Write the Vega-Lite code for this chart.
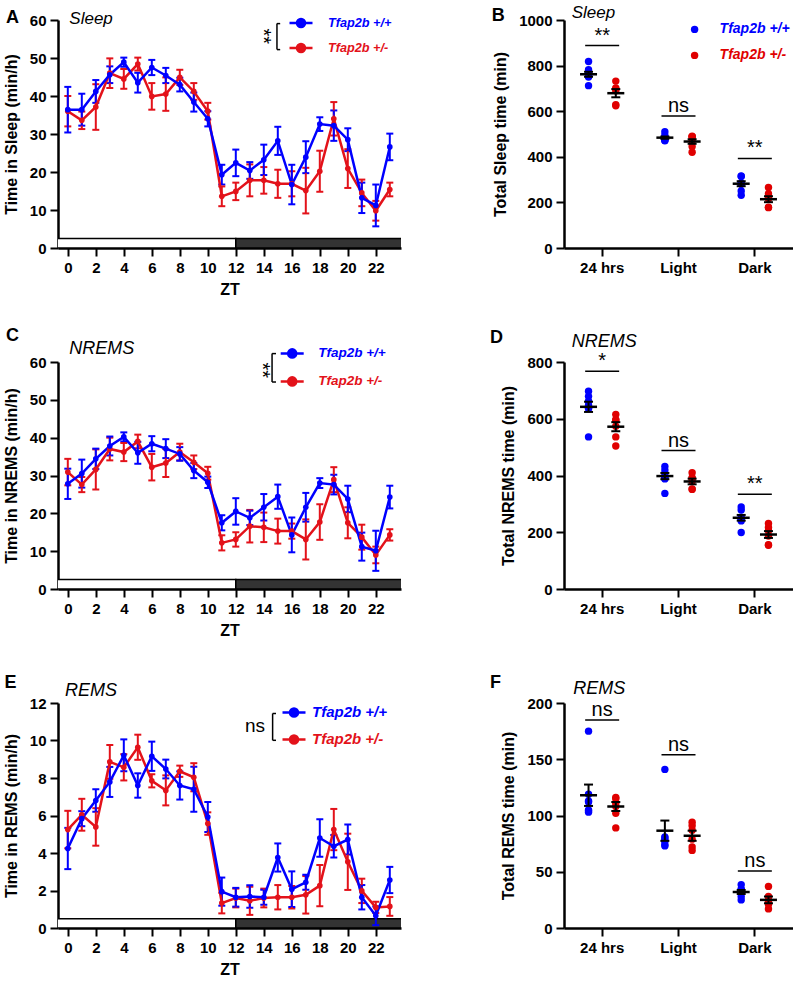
{
  "$schema": "https://vega.github.io/schema/vega-lite/v6.json",
  "background": "white",
  "padding": {"left": 3, "top": 4, "right": 0, "bottom": 0},
  "autosize": {"type": "pad"},
  "bounds": "flush",
  "columns": 2,
  "spacing": {"row": 114, "column": 163},
  "resolve": {"scale": {"color": "independent", "fill": "independent"}, "legend": {"color": "independent", "fill": "independent"}},
  "datasets": {
    "phase": [{"phase": "Light", "start": -1, "end": 12}, {"phase": "Dark", "start": 12, "end": 24}],
    "sleep": [
      {"zt":0,"genotype":"Tfap2b +/-","mean":36,"sem":4},{"zt":1,"genotype":"Tfap2b +/-","mean":33.6,"sem":2.3},{"zt":2,"genotype":"Tfap2b +/-","mean":37.1,"sem":6},{"zt":3,"genotype":"Tfap2b +/-","mean":46,"sem":3.9},{"zt":4,"genotype":"Tfap2b +/-","mean":44.5,"sem":2.6},{"zt":5,"genotype":"Tfap2b +/-","mean":48.4,"sem":1.7},{"zt":6,"genotype":"Tfap2b +/-","mean":39.9,"sem":3.5},{"zt":7,"genotype":"Tfap2b +/-","mean":40.5,"sem":4.4},{"zt":8,"genotype":"Tfap2b +/-","mean":44.9,"sem":2},{"zt":9,"genotype":"Tfap2b +/-","mean":41.2,"sem":2.2},{"zt":10,"genotype":"Tfap2b +/-","mean":36,"sem":2.2},{"zt":11,"genotype":"Tfap2b +/-","mean":13.6,"sem":2.6},{"zt":12,"genotype":"Tfap2b +/-","mean":14.9,"sem":2.3},{"zt":13,"genotype":"Tfap2b +/-","mean":17.8,"sem":4.2},{"zt":14,"genotype":"Tfap2b +/-","mean":17.8,"sem":3.5},{"zt":15,"genotype":"Tfap2b +/-","mean":16.9,"sem":3.7},{"zt":16,"genotype":"Tfap2b +/-","mean":16.9,"sem":3.3},{"zt":17,"genotype":"Tfap2b +/-","mean":15.1,"sem":6},{"zt":18,"genotype":"Tfap2b +/-","mean":20.2,"sem":5.4},{"zt":19,"genotype":"Tfap2b +/-","mean":34,"sem":4.4},{"zt":20,"genotype":"Tfap2b +/-","mean":20.9,"sem":5.1},{"zt":21,"genotype":"Tfap2b +/-","mean":14.5,"sem":3.5},{"zt":22,"genotype":"Tfap2b +/-","mean":9.8,"sem":2.6},{"zt":23,"genotype":"Tfap2b +/-","mean":15.4,"sem":1.8},
      {"zt":0,"genotype":"Tfap2b +/+","mean":36.4,"sem":6},{"zt":1,"genotype":"Tfap2b +/+","mean":36.4,"sem":4.2},{"zt":2,"genotype":"Tfap2b +/+","mean":41.2,"sem":3},{"zt":3,"genotype":"Tfap2b +/+","mean":45.6,"sem":2.2},{"zt":4,"genotype":"Tfap2b +/+","mean":48.9,"sem":1.2},{"zt":5,"genotype":"Tfap2b +/+","mean":43.5,"sem":2.6},{"zt":6,"genotype":"Tfap2b +/+","mean":47.5,"sem":2},{"zt":7,"genotype":"Tfap2b +/+","mean":45.4,"sem":2},{"zt":8,"genotype":"Tfap2b +/+","mean":43,"sem":1.8},{"zt":9,"genotype":"Tfap2b +/+","mean":38.4,"sem":2.5},{"zt":10,"genotype":"Tfap2b +/+","mean":34,"sem":2},{"zt":11,"genotype":"Tfap2b +/+","mean":19.3,"sem":2.6},{"zt":12,"genotype":"Tfap2b +/+","mean":22.4,"sem":3.5},{"zt":13,"genotype":"Tfap2b +/+","mean":20.4,"sem":2.2},{"zt":14,"genotype":"Tfap2b +/+","mean":23.2,"sem":4},{"zt":15,"genotype":"Tfap2b +/+","mean":28.2,"sem":3.7},{"zt":16,"genotype":"Tfap2b +/+","mean":16.7,"sem":5.2},{"zt":17,"genotype":"Tfap2b +/+","mean":23.9,"sem":4.2},{"zt":18,"genotype":"Tfap2b +/+","mean":32.6,"sem":1.8},{"zt":19,"genotype":"Tfap2b +/+","mean":32.2,"sem":4},{"zt":20,"genotype":"Tfap2b +/+","mean":28.5,"sem":3},{"zt":21,"genotype":"Tfap2b +/+","mean":13.2,"sem":4},{"zt":22,"genotype":"Tfap2b +/+","mean":11.2,"sem":5.5},{"zt":23,"genotype":"Tfap2b +/+","mean":26.6,"sem":3.5}
    ],
    "nrems": [
      {"zt":0,"genotype":"Tfap2b +/-","mean":30.9,"sem":3.5},{"zt":1,"genotype":"Tfap2b +/-","mean":27.6,"sem":2},{"zt":2,"genotype":"Tfap2b +/-","mean":31.6,"sem":5.3},{"zt":3,"genotype":"Tfap2b +/-","mean":37,"sem":3},{"zt":4,"genotype":"Tfap2b +/-","mean":36.2,"sem":2.4},{"zt":5,"genotype":"Tfap2b +/-","mean":39,"sem":1.8},{"zt":6,"genotype":"Tfap2b +/-","mean":32.2,"sem":3.5},{"zt":7,"genotype":"Tfap2b +/-","mean":33.3,"sem":3.7},{"zt":8,"genotype":"Tfap2b +/-","mean":36.2,"sem":2.2},{"zt":9,"genotype":"Tfap2b +/-","mean":33.5,"sem":1.8},{"zt":10,"genotype":"Tfap2b +/-","mean":30.6,"sem":1.7},{"zt":11,"genotype":"Tfap2b +/-","mean":12.2,"sem":2},{"zt":12,"genotype":"Tfap2b +/-","mean":13.1,"sem":1.9},{"zt":13,"genotype":"Tfap2b +/-","mean":16.6,"sem":4.3},{"zt":14,"genotype":"Tfap2b +/-","mean":16.3,"sem":3.9},{"zt":15,"genotype":"Tfap2b +/-","mean":15.3,"sem":3.3},{"zt":16,"genotype":"Tfap2b +/-","mean":15.3,"sem":2},{"zt":17,"genotype":"Tfap2b +/-","mean":13.1,"sem":5.3},{"zt":18,"genotype":"Tfap2b +/-","mean":17.7,"sem":4.7},{"zt":19,"genotype":"Tfap2b +/-","mean":28.9,"sem":3.3},{"zt":20,"genotype":"Tfap2b +/-","mean":17.5,"sem":4.1},{"zt":21,"genotype":"Tfap2b +/-","mean":13.7,"sem":3.3},{"zt":22,"genotype":"Tfap2b +/-","mean":9,"sem":2.2},{"zt":23,"genotype":"Tfap2b +/-","mean":14.3,"sem":1.5},
      {"zt":0,"genotype":"Tfap2b +/+","mean":27.8,"sem":4},{"zt":1,"genotype":"Tfap2b +/+","mean":30.5,"sem":3.7},{"zt":2,"genotype":"Tfap2b +/+","mean":34.4,"sem":2.7},{"zt":3,"genotype":"Tfap2b +/+","mean":37.8,"sem":2.5},{"zt":4,"genotype":"Tfap2b +/+","mean":40.2,"sem":1.2},{"zt":5,"genotype":"Tfap2b +/+","mean":36,"sem":2.9},{"zt":6,"genotype":"Tfap2b +/+","mean":38.4,"sem":2},{"zt":7,"genotype":"Tfap2b +/+","mean":37.1,"sem":2.5},{"zt":8,"genotype":"Tfap2b +/+","mean":35.7,"sem":1.8},{"zt":9,"genotype":"Tfap2b +/+","mean":31.3,"sem":2},{"zt":10,"genotype":"Tfap2b +/+","mean":28.2,"sem":1.5},{"zt":11,"genotype":"Tfap2b +/+","mean":17.5,"sem":2},{"zt":12,"genotype":"Tfap2b +/+","mean":20.5,"sem":3.5},{"zt":13,"genotype":"Tfap2b +/+","mean":18.8,"sem":1.9},{"zt":14,"genotype":"Tfap2b +/+","mean":21.6,"sem":3.5},{"zt":15,"genotype":"Tfap2b +/+","mean":24.4,"sem":3.2},{"zt":16,"genotype":"Tfap2b +/+","mean":14.3,"sem":4.6},{"zt":17,"genotype":"Tfap2b +/+","mean":21.6,"sem":3.8},{"zt":18,"genotype":"Tfap2b +/+","mean":28,"sem":1.3},{"zt":19,"genotype":"Tfap2b +/+","mean":27.6,"sem":2.6},{"zt":20,"genotype":"Tfap2b +/+","mean":23.8,"sem":3.5},{"zt":21,"genotype":"Tfap2b +/+","mean":11.2,"sem":3.7},{"zt":22,"genotype":"Tfap2b +/+","mean":10.1,"sem":5.3},{"zt":23,"genotype":"Tfap2b +/+","mean":24.3,"sem":3}
    ],
    "rems": [
      {"zt":0,"genotype":"Tfap2b +/-","mean":5.25,"sem":1},{"zt":1,"genotype":"Tfap2b +/-","mean":6.04,"sem":0.85},{"zt":2,"genotype":"Tfap2b +/-","mean":5.39,"sem":1},{"zt":3,"genotype":"Tfap2b +/-","mean":8.86,"sem":0.9},{"zt":4,"genotype":"Tfap2b +/-","mean":8.57,"sem":0.7},{"zt":5,"genotype":"Tfap2b +/-","mean":9.64,"sem":0.67},{"zt":6,"genotype":"Tfap2b +/-","mean":7.85,"sem":0.35},{"zt":7,"genotype":"Tfap2b +/-","mean":7.34,"sem":0.8},{"zt":8,"genotype":"Tfap2b +/-","mean":8.36,"sem":0.3},{"zt":9,"genotype":"Tfap2b +/-","mean":8.04,"sem":0.75},{"zt":10,"genotype":"Tfap2b +/-","mean":5.57,"sem":0.6},{"zt":11,"genotype":"Tfap2b +/-","mean":1.33,"sem":0.55},{"zt":12,"genotype":"Tfap2b +/-","mean":1.6,"sem":0.5},{"zt":13,"genotype":"Tfap2b +/-","mean":1.45,"sem":0.75},{"zt":14,"genotype":"Tfap2b +/-","mean":1.6,"sem":0.5},{"zt":15,"genotype":"Tfap2b +/-","mean":1.64,"sem":0.65},{"zt":16,"genotype":"Tfap2b +/-","mean":1.64,"sem":0.6},{"zt":17,"genotype":"Tfap2b +/-","mean":1.77,"sem":1},{"zt":18,"genotype":"Tfap2b +/-","mean":2.26,"sem":1.1},{"zt":19,"genotype":"Tfap2b +/-","mean":5.25,"sem":1.1},{"zt":20,"genotype":"Tfap2b +/-","mean":3.53,"sem":1.5},{"zt":21,"genotype":"Tfap2b +/-","mean":1.98,"sem":0.65},{"zt":22,"genotype":"Tfap2b +/-","mean":1.1,"sem":0.3},{"zt":23,"genotype":"Tfap2b +/-","mean":1.15,"sem":0.5},
      {"zt":0,"genotype":"Tfap2b +/+","mean":4.24,"sem":1.1},{"zt":1,"genotype":"Tfap2b +/+","mean":5.83,"sem":0.4},{"zt":2,"genotype":"Tfap2b +/+","mean":6.8,"sem":0.6},{"zt":3,"genotype":"Tfap2b +/+","mean":7.79,"sem":0.8},{"zt":4,"genotype":"Tfap2b +/+","mean":9.21,"sem":0.85},{"zt":5,"genotype":"Tfap2b +/+","mean":7.6,"sem":0.65},{"zt":6,"genotype":"Tfap2b +/+","mean":9.16,"sem":0.78},{"zt":7,"genotype":"Tfap2b +/+","mean":8.48,"sem":0.5},{"zt":8,"genotype":"Tfap2b +/+","mean":7.6,"sem":0.75},{"zt":9,"genotype":"Tfap2b +/+","mean":7.4,"sem":1.2},{"zt":10,"genotype":"Tfap2b +/+","mean":5.92,"sem":0.8},{"zt":11,"genotype":"Tfap2b +/+","mean":1.94,"sem":0.75},{"zt":12,"genotype":"Tfap2b +/+","mean":1.64,"sem":0.5},{"zt":13,"genotype":"Tfap2b +/+","mean":1.68,"sem":0.6},{"zt":14,"genotype":"Tfap2b +/+","mean":1.64,"sem":0.4},{"zt":15,"genotype":"Tfap2b +/+","mean":3.76,"sem":0.75},{"zt":16,"genotype":"Tfap2b +/+","mean":2.07,"sem":0.95},{"zt":17,"genotype":"Tfap2b +/+","mean":2.44,"sem":0.4},{"zt":18,"genotype":"Tfap2b +/+","mean":4.8,"sem":1},{"zt":19,"genotype":"Tfap2b +/+","mean":4.36,"sem":0.6},{"zt":20,"genotype":"Tfap2b +/+","mean":4.72,"sem":0.8},{"zt":21,"genotype":"Tfap2b +/+","mean":1.64,"sem":0.65},{"zt":22,"genotype":"Tfap2b +/+","mean":0.65,"sem":0.5},{"zt":23,"genotype":"Tfap2b +/+","mean":2.56,"sem":0.7}
    ],
    "sleep_ind": [
      {"period":"24 hrs","genotype":"Tfap2b +/+","value":818},{"period":"24 hrs","genotype":"Tfap2b +/+","value":782},{"period":"24 hrs","genotype":"Tfap2b +/+","value":765},{"period":"24 hrs","genotype":"Tfap2b +/+","value":756},{"period":"24 hrs","genotype":"Tfap2b +/+","value":753},{"period":"24 hrs","genotype":"Tfap2b +/+","value":750},{"period":"24 hrs","genotype":"Tfap2b +/+","value":712},
      {"period":"24 hrs","genotype":"Tfap2b +/-","value":732},{"period":"24 hrs","genotype":"Tfap2b +/-","value":702},{"period":"24 hrs","genotype":"Tfap2b +/-","value":697},{"period":"24 hrs","genotype":"Tfap2b +/-","value":690},{"period":"24 hrs","genotype":"Tfap2b +/-","value":628},{"period":"24 hrs","genotype":"Tfap2b +/-","value":624},
      {"period":"Light","genotype":"Tfap2b +/+","value":510},{"period":"Light","genotype":"Tfap2b +/+","value":495},{"period":"Light","genotype":"Tfap2b +/+","value":485},{"period":"Light","genotype":"Tfap2b +/+","value":480},{"period":"Light","genotype":"Tfap2b +/+","value":476},{"period":"Light","genotype":"Tfap2b +/+","value":472},{"period":"Light","genotype":"Tfap2b +/+","value":470},
      {"period":"Light","genotype":"Tfap2b +/-","value":490},{"period":"Light","genotype":"Tfap2b +/-","value":488},{"period":"Light","genotype":"Tfap2b +/-","value":487},{"period":"Light","genotype":"Tfap2b +/-","value":470},{"period":"Light","genotype":"Tfap2b +/-","value":445},{"period":"Light","genotype":"Tfap2b +/-","value":420},
      {"period":"Dark","genotype":"Tfap2b +/+","value":316},{"period":"Dark","genotype":"Tfap2b +/+","value":314},{"period":"Dark","genotype":"Tfap2b +/+","value":282},{"period":"Dark","genotype":"Tfap2b +/+","value":284},{"period":"Dark","genotype":"Tfap2b +/+","value":280},{"period":"Dark","genotype":"Tfap2b +/+","value":250},{"period":"Dark","genotype":"Tfap2b +/+","value":231},
      {"period":"Dark","genotype":"Tfap2b +/-","value":265},{"period":"Dark","genotype":"Tfap2b +/-","value":238},{"period":"Dark","genotype":"Tfap2b +/-","value":224},{"period":"Dark","genotype":"Tfap2b +/-","value":216},{"period":"Dark","genotype":"Tfap2b +/-","value":179},{"period":"Dark","genotype":"Tfap2b +/-","value":177}
    ],
    "sleep_sum": [
      {"period":"24 hrs","genotype":"Tfap2b +/+","mean":762,"sem":11},{"period":"24 hrs","genotype":"Tfap2b +/-","mean":679,"sem":18},
      {"period":"Light","genotype":"Tfap2b +/+","mean":484,"sem":5},{"period":"Light","genotype":"Tfap2b +/-","mean":467,"sem":10},
      {"period":"Dark","genotype":"Tfap2b +/+","mean":282,"sem":11},{"period":"Dark","genotype":"Tfap2b +/-","mean":214,"sem":13}
    ],
    "sleep_sig": [{"period":"24 hrs","y":888,"label":"**"},{"period":"Light","y":579,"label":"ns"},{"period":"Dark","y":393,"label":"**"}],
    "nrems_ind": [
      {"period":"24 hrs","genotype":"Tfap2b +/+","value":697},{"period":"24 hrs","genotype":"Tfap2b +/+","value":679},{"period":"24 hrs","genotype":"Tfap2b +/+","value":662},{"period":"24 hrs","genotype":"Tfap2b +/+","value":648},{"period":"24 hrs","genotype":"Tfap2b +/+","value":636},{"period":"24 hrs","genotype":"Tfap2b +/+","value":638},{"period":"24 hrs","genotype":"Tfap2b +/+","value":536},
      {"period":"24 hrs","genotype":"Tfap2b +/-","value":615},{"period":"24 hrs","genotype":"Tfap2b +/-","value":595},{"period":"24 hrs","genotype":"Tfap2b +/-","value":597},{"period":"24 hrs","genotype":"Tfap2b +/-","value":574},{"period":"24 hrs","genotype":"Tfap2b +/-","value":536},{"period":"24 hrs","genotype":"Tfap2b +/-","value":504},
      {"period":"Light","genotype":"Tfap2b +/+","value":432},{"period":"Light","genotype":"Tfap2b +/+","value":419},{"period":"Light","genotype":"Tfap2b +/+","value":406},{"period":"Light","genotype":"Tfap2b +/+","value":390},{"period":"Light","genotype":"Tfap2b +/+","value":392},{"period":"Light","genotype":"Tfap2b +/+","value":388},{"period":"Light","genotype":"Tfap2b +/+","value":337},
      {"period":"Light","genotype":"Tfap2b +/-","value":410},{"period":"Light","genotype":"Tfap2b +/-","value":392},{"period":"Light","genotype":"Tfap2b +/-","value":390},{"period":"Light","genotype":"Tfap2b +/-","value":380},{"period":"Light","genotype":"Tfap2b +/-","value":351},{"period":"Light","genotype":"Tfap2b +/-","value":353},
      {"period":"Dark","genotype":"Tfap2b +/+","value":289},{"period":"Dark","genotype":"Tfap2b +/+","value":278},{"period":"Dark","genotype":"Tfap2b +/+","value":252},{"period":"Dark","genotype":"Tfap2b +/+","value":246},{"period":"Dark","genotype":"Tfap2b +/+","value":248},{"period":"Dark","genotype":"Tfap2b +/+","value":240},{"period":"Dark","genotype":"Tfap2b +/+","value":199},
      {"period":"Dark","genotype":"Tfap2b +/-","value":231},{"period":"Dark","genotype":"Tfap2b +/-","value":217},{"period":"Dark","genotype":"Tfap2b +/-","value":205},{"period":"Dark","genotype":"Tfap2b +/-","value":187},{"period":"Dark","genotype":"Tfap2b +/-","value":156},{"period":"Dark","genotype":"Tfap2b +/-","value":154}
    ],
    "nrems_sum": [
      {"period":"24 hrs","genotype":"Tfap2b +/+","mean":642,"sem":18},{"period":"24 hrs","genotype":"Tfap2b +/-","mean":572,"sem":16},
      {"period":"Light","genotype":"Tfap2b +/+","mean":398,"sem":11},{"period":"Light","genotype":"Tfap2b +/-","mean":379,"sem":10},
      {"period":"Dark","genotype":"Tfap2b +/+","mean":251,"sem":10},{"period":"Dark","genotype":"Tfap2b +/-","mean":192,"sem":12}
    ],
    "nrems_sig": [{"period":"24 hrs","y":767,"label":"*"},{"period":"Light","y":488,"label":"ns"},{"period":"Dark","y":334,"label":"**"}],
    "rems_ind": [
      {"period":"24 hrs","genotype":"Tfap2b +/+","value":175},{"period":"24 hrs","genotype":"Tfap2b +/+","value":119},{"period":"24 hrs","genotype":"Tfap2b +/+","value":112},{"period":"24 hrs","genotype":"Tfap2b +/+","value":113},{"period":"24 hrs","genotype":"Tfap2b +/+","value":104},{"period":"24 hrs","genotype":"Tfap2b +/+","value":105},{"period":"24 hrs","genotype":"Tfap2b +/+","value":103},
      {"period":"24 hrs","genotype":"Tfap2b +/-","value":116},{"period":"24 hrs","genotype":"Tfap2b +/-","value":115},{"period":"24 hrs","genotype":"Tfap2b +/-","value":111},{"period":"24 hrs","genotype":"Tfap2b +/-","value":108},{"period":"24 hrs","genotype":"Tfap2b +/-","value":102},{"period":"24 hrs","genotype":"Tfap2b +/-","value":89},
      {"period":"Light","genotype":"Tfap2b +/+","value":141},{"period":"Light","genotype":"Tfap2b +/+","value":80},{"period":"Light","genotype":"Tfap2b +/+","value":81},{"period":"Light","genotype":"Tfap2b +/+","value":78},{"period":"Light","genotype":"Tfap2b +/+","value":77},{"period":"Light","genotype":"Tfap2b +/+","value":74},{"period":"Light","genotype":"Tfap2b +/+","value":73},
      {"period":"Light","genotype":"Tfap2b +/-","value":94},{"period":"Light","genotype":"Tfap2b +/-","value":91},{"period":"Light","genotype":"Tfap2b +/-","value":87},{"period":"Light","genotype":"Tfap2b +/-","value":79},{"period":"Light","genotype":"Tfap2b +/-","value":72},{"period":"Light","genotype":"Tfap2b +/-","value":69},
      {"period":"Dark","genotype":"Tfap2b +/+","value":38.5},{"period":"Dark","genotype":"Tfap2b +/+","value":34},{"period":"Dark","genotype":"Tfap2b +/+","value":34.5},{"period":"Dark","genotype":"Tfap2b +/+","value":33},{"period":"Dark","genotype":"Tfap2b +/+","value":32},{"period":"Dark","genotype":"Tfap2b +/+","value":28},{"period":"Dark","genotype":"Tfap2b +/+","value":25},
      {"period":"Dark","genotype":"Tfap2b +/-","value":37},{"period":"Dark","genotype":"Tfap2b +/-","value":28},{"period":"Dark","genotype":"Tfap2b +/-","value":24},{"period":"Dark","genotype":"Tfap2b +/-","value":24.5},{"period":"Dark","genotype":"Tfap2b +/-","value":21},{"period":"Dark","genotype":"Tfap2b +/-","value":17}
    ],
    "rems_sum": [
      {"period":"24 hrs","genotype":"Tfap2b +/+","mean":118,"sem":9.5},{"period":"24 hrs","genotype":"Tfap2b +/-","mean":108,"sem":4},
      {"period":"Light","genotype":"Tfap2b +/+","mean":86.5,"sem":9},{"period":"Light","genotype":"Tfap2b +/-","mean":82,"sem":4.5},
      {"period":"Dark","genotype":"Tfap2b +/+","mean":32,"sem":1.8},{"period":"Dark","genotype":"Tfap2b +/-","mean":25,"sem":3}
    ],
    "rems_sig": [{"period":"24 hrs","y":185,"label":"ns"},{"period":"Light","y":154,"label":"ns"},{"period":"Dark","y":50.6,"label":"ns"}]
  },
  "concat": [
    {
      "width": 343, "height": 228,
      "layer": [
        {"data": {"name": "phase"}, "mark": {"type": "rect", "stroke": "black", "strokeWidth": 1.5, "clip": true},
         "encoding": {
           "x": {"field": "start", "type": "quantitative", "scale": {"domain": [-0.7, 23.8], "nice": false, "zero": false}, "axis": {"values": [0,2,4,6,8,10,12,14,16,18,20,22], "tickCount": 30, "labelOverlap": false, "format": "d", "title": "ZT", "titlePadding": 6}},
           "x2": {"field": "end"},
           "y": {"datum": 0, "type": "quantitative", "scale": {"domain": [0, 60], "nice": false}, "axis": {"values": [0,10,20,30,40,50,60], "tickCount": 30, "labelOverlap": false, "format": "d", "title": "Time in Sleep (min/h)", "titlePadding": 10}},
           "y2": {"datum": 2.5},
           "fill": {"field": "phase", "type": "nominal", "scale": {"domain": ["Light", "Dark"], "range": ["#ffffff", "#333333"]}, "legend": null}
         }},
        {"data": {"name": "sleep"}, "mark": {"type": "errorbar", "thickness": 2, "ticks": {"size": 7, "thickness": 2, "opacity": 1}},
         "encoding": {"x": {"field": "zt", "type": "quantitative", "axis": {"values": [0,2,4,6,8,10,12,14,16,18,20,22], "tickCount": 30, "labelOverlap": false, "format": "d", "title": "ZT", "titlePadding": 6}}, "y": {"field": "mean", "type": "quantitative", "axis": {"values": [0,10,20,30,40,50,60], "tickCount": 30, "labelOverlap": false, "format": "d", "title": "Time in Sleep (min/h)", "titlePadding": 10}}, "yError": {"field": "sem"}, "color": {"field": "genotype", "type": "nominal", "scale": {"domain": ["Tfap2b +/+", "Tfap2b +/-"], "range": ["#0000ff", "#e3121a"]}}}},
        {"data": {"name": "sleep"}, "mark": {"type": "line", "strokeWidth": 2.5},
         "encoding": {"x": {"field": "zt", "type": "quantitative", "axis": {"values": [0,2,4,6,8,10,12,14,16,18,20,22], "tickCount": 30, "labelOverlap": false, "format": "d", "title": "ZT", "titlePadding": 6}}, "y": {"field": "mean", "type": "quantitative", "axis": {"values": [0,10,20,30,40,50,60], "tickCount": 30, "labelOverlap": false, "format": "d", "title": "Time in Sleep (min/h)", "titlePadding": 10}}, "color": {"field": "genotype", "type": "nominal"}}},
        {"data": {"name": "sleep"}, "mark": {"type": "circle", "size": 32, "opacity": 1},
         "encoding": {"x": {"field": "zt", "type": "quantitative", "axis": {"values": [0,2,4,6,8,10,12,14,16,18,20,22], "tickCount": 30, "labelOverlap": false, "format": "d", "title": "ZT", "titlePadding": 6}}, "y": {"field": "mean", "type": "quantitative", "axis": {"values": [0,10,20,30,40,50,60], "tickCount": 30, "labelOverlap": false, "format": "d", "title": "Time in Sleep (min/h)", "titlePadding": 10}},
           "color": {"field": "genotype", "type": "nominal", "legend": {"orient": "none", "legendX": 230, "legendY": -10, "title": null, "symbolType": "M-1,0L1,0M0.35,0A0.35,0.35,0,1,1,-0.35,0A0.35,0.35,0,1,1,0.35,0Z", "symbolSize": 529, "symbolStrokeWidth": 2.5, "symbolOpacity": 1, "labelColor": {"expr": "datum.label === 'Tfap2b +/+' ? '#0000ff' : '#e3121a'"}, "labelFontSize": 12.7, "labelOffset": 14, "rowPadding": 2}}}},
        {"data": {"values": [{}]}, "mark": {"type": "text", "text": "A", "fontSize": 18, "fontWeight": "bold", "align": "left", "baseline": "alphabetic"}, "encoding": {"x": {"datum": -4.41}, "y": {"datum": 59.21}}},
        {"data": {"values": [{}]}, "mark": {"type": "text", "text": "Sleep", "fontSize": 17, "fontStyle": "italic", "align": "left", "baseline": "alphabetic"}, "encoding": {"x": {"datum": 0.11}, "y": {"datum": 58.95}}},
        {"data": {"values": [{}]}, "mark": {"type": "text", "text": "**", "fontSize": 20, "angle": 90, "align": "center", "baseline": "middle"}, "encoding": {"x": {"datum": 13.94}, "y": {"datum": 55.71}}},
        {"data": {"values": [{}]}, "mark": {"type": "rule", "strokeWidth": 1.5, "color": "black"}, "encoding": {"x": {"datum": 14.94}, "y": {"datum": 52.21}, "y2": {"datum": 59.05}}},
        {"data": {"values": [{}]}, "mark": {"type": "rule", "strokeWidth": 1.5, "color": "black"}, "encoding": {"x": {"datum": 14.94}, "x2": {"datum": 15.17}, "y": {"datum": 59.05}}},
        {"data": {"values": [{}]}, "mark": {"type": "rule", "strokeWidth": 1.5, "color": "black"}, "encoding": {"x": {"datum": 14.94}, "x2": {"datum": 15.17}, "y": {"datum": 52.21}}}
      ]
    },
    {
      "width": 229, "height": 228,
      "layer": [
        {"data": {"name": "sleep_ind"}, "mark": {"type": "circle", "size": 55, "opacity": 1},
         "encoding": {
           "x": {"field": "period", "type": "nominal", "sort": ["24 hrs", "Light", "Dark"], "scale": {"paddingInner": 0, "paddingOuter": -0.04}, "axis": {"title": null, "labelAngle": 0}},
           "xOffset": {"field": "genotype", "type": "nominal", "sort": ["Tfap2b +/+", "Tfap2b +/-"], "scale": {"paddingInner": 0, "paddingOuter": 0.4}},
           "y": {"field": "value", "type": "quantitative", "scale": {"domain": [0, 1000], "nice": false}, "axis": {"values": [0,200,400,600,800,1000], "tickCount": 30, "labelOverlap": false, "format": "d", "title": "Total Sleep time (min)", "titlePadding": 10}},
           "color": {"field": "genotype", "type": "nominal", "scale": {"domain": ["Tfap2b +/+", "Tfap2b +/-"], "range": ["#0000ff", "#e00000"]},
             "legend": {"orient": "none", "legendX": 123.6, "legendY": 2.4, "title": null, "symbolType": "circle", "symbolSize": 55, "symbolOpacity": 1, "labelColor": {"expr": "datum.label === 'Tfap2b +/+' ? '#0000ff' : '#e00000'"}, "labelFontSize": 14, "labelOffset": 18, "rowPadding": 12}}
         }},
        {"data": {"name": "sleep_sum"}, "mark": {"type": "tick", "color": "black", "thickness": 2.5, "size": 17, "opacity": 1},
         "encoding": {"x": {"field": "period", "type": "nominal", "sort": ["24 hrs", "Light", "Dark"], "axis": {"title": null, "labelAngle": 0}}, "xOffset": {"field": "genotype", "type": "nominal", "sort": ["Tfap2b +/+", "Tfap2b +/-"]}, "y": {"field": "mean", "type": "quantitative", "axis": {"values": [0,200,400,600,800,1000], "tickCount": 30, "labelOverlap": false, "format": "d", "title": "Total Sleep time (min)", "titlePadding": 10}}}},
        {"data": {"name": "sleep_sum"}, "mark": {"type": "errorbar", "color": "black", "thickness": 2, "ticks": {"size": 9, "thickness": 2, "opacity": 1}},
         "encoding": {"x": {"field": "period", "type": "nominal", "sort": ["24 hrs", "Light", "Dark"], "axis": {"title": null, "labelAngle": 0}}, "xOffset": {"field": "genotype", "type": "nominal", "sort": ["Tfap2b +/+", "Tfap2b +/-"]}, "y": {"field": "mean", "type": "quantitative", "axis": {"values": [0,200,400,600,800,1000], "tickCount": 30, "labelOverlap": false, "format": "d", "title": "Total Sleep time (min)", "titlePadding": 10}}, "yError": {"field": "sem"}}},
        {"data": {"name": "sleep_sig"}, "mark": {"type": "tick", "color": "black", "thickness": 1.5, "size": 34, "opacity": 1},
         "encoding": {"x": {"field": "period", "type": "nominal", "sort": ["24 hrs", "Light", "Dark"], "axis": {"title": null, "labelAngle": 0}}, "y": {"field": "y", "type": "quantitative", "axis": {"values": [0,200,400,600,800,1000], "tickCount": 30, "labelOverlap": false, "format": "d", "title": "Total Sleep time (min)", "titlePadding": 10}}}},
        {"data": {"name": "sleep_sig"}, "mark": {"type": "text", "fontSize": 20, "dy": -10, "baseline": "middle"},
         "encoding": {"x": {"field": "period", "type": "nominal", "sort": ["24 hrs", "Light", "Dark"], "axis": {"title": null, "labelAngle": 0}}, "y": {"field": "y", "type": "quantitative", "axis": {"values": [0,200,400,600,800,1000], "tickCount": 30, "labelOverlap": false, "format": "d", "title": "Total Sleep time (min)", "titlePadding": 10}}, "text": {"field": "label"}}},
        {"data": {"values": [{}]}, "mark": {"type": "text", "text": "B", "fontSize": 18, "fontWeight": "bold", "align": "left", "baseline": "alphabetic", "dx": -110.5}, "encoding": {"x": {"datum": "24 hrs"}, "y": {"datum": 994.3}}},
        {"data": {"values": [{}]}, "mark": {"type": "text", "text": "Sleep", "fontSize": 17, "fontStyle": "italic", "align": "left", "baseline": "alphabetic", "dx": -30.5}, "encoding": {"x": {"datum": "24 hrs"}, "y": {"datum": 1007.5}}}
      ]
    },
    {
      "width": 343, "height": 227,
      "layer": [
        {"data": {"name": "phase"}, "mark": {"type": "rect", "stroke": "black", "strokeWidth": 1.5, "clip": true},
         "encoding": {
           "x": {"field": "start", "type": "quantitative", "scale": {"domain": [-0.7, 23.8], "nice": false, "zero": false}, "axis": {"values": [0,2,4,6,8,10,12,14,16,18,20,22], "tickCount": 30, "labelOverlap": false, "format": "d", "title": "ZT", "titlePadding": 6}},
           "x2": {"field": "end"},
           "y": {"datum": 0, "type": "quantitative", "scale": {"domain": [0, 60], "nice": false}, "axis": {"values": [0,10,20,30,40,50,60], "tickCount": 30, "labelOverlap": false, "format": "d", "title": "Time in NREMS (min/h)", "titlePadding": 10}},
           "y2": {"datum": 2.5},
           "fill": {"field": "phase", "type": "nominal", "scale": {"domain": ["Light", "Dark"], "range": ["#ffffff", "#333333"]}, "legend": null}
         }},
        {"data": {"name": "nrems"}, "mark": {"type": "errorbar", "thickness": 2, "ticks": {"size": 7, "thickness": 2, "opacity": 1}},
         "encoding": {"x": {"field": "zt", "type": "quantitative", "axis": {"values": [0,2,4,6,8,10,12,14,16,18,20,22], "tickCount": 30, "labelOverlap": false, "format": "d", "title": "ZT", "titlePadding": 6}}, "y": {"field": "mean", "type": "quantitative", "axis": {"values": [0,10,20,30,40,50,60], "tickCount": 30, "labelOverlap": false, "format": "d", "title": "Time in NREMS (min/h)", "titlePadding": 10}}, "yError": {"field": "sem"}, "color": {"field": "genotype", "type": "nominal", "scale": {"domain": ["Tfap2b +/+", "Tfap2b +/-"], "range": ["#0000ff", "#e3121a"]}}}},
        {"data": {"name": "nrems"}, "mark": {"type": "line", "strokeWidth": 2.5},
         "encoding": {"x": {"field": "zt", "type": "quantitative", "axis": {"values": [0,2,4,6,8,10,12,14,16,18,20,22], "tickCount": 30, "labelOverlap": false, "format": "d", "title": "ZT", "titlePadding": 6}}, "y": {"field": "mean", "type": "quantitative", "axis": {"values": [0,10,20,30,40,50,60], "tickCount": 30, "labelOverlap": false, "format": "d", "title": "Time in NREMS (min/h)", "titlePadding": 10}}, "color": {"field": "genotype", "type": "nominal"}}},
        {"data": {"name": "nrems"}, "mark": {"type": "circle", "size": 32, "opacity": 1},
         "encoding": {"x": {"field": "zt", "type": "quantitative", "axis": {"values": [0,2,4,6,8,10,12,14,16,18,20,22], "tickCount": 30, "labelOverlap": false, "format": "d", "title": "ZT", "titlePadding": 6}}, "y": {"field": "mean", "type": "quantitative", "axis": {"values": [0,10,20,30,40,50,60], "tickCount": 30, "labelOverlap": false, "format": "d", "title": "Time in NREMS (min/h)", "titlePadding": 10}},
           "color": {"field": "genotype", "type": "nominal", "legend": {"orient": "none", "legendX": 221.2, "legendY": -21.6, "title": null, "symbolType": "M-1,0L1,0M0.35,0A0.35,0.35,0,1,1,-0.35,0A0.35,0.35,0,1,1,0.35,0Z", "symbolSize": 529, "symbolStrokeWidth": 2.5, "symbolOpacity": 1, "labelColor": {"expr": "datum.label === 'Tfap2b +/+' ? '#0000ff' : '#e3121a'"}, "labelFontSize": 13.5, "labelOffset": 13, "rowPadding": 5}}}},
        {"data": {"values": [{}]}, "mark": {"type": "text", "text": "C", "fontSize": 18, "fontWeight": "bold", "align": "left", "baseline": "alphabetic"}, "encoding": {"x": {"datum": -4.41}, "y": {"datum": 65.47}}},
        {"data": {"values": [{}]}, "mark": {"type": "text", "text": "NREMS", "fontSize": 18, "fontStyle": "italic", "align": "left", "baseline": "alphabetic"}, "encoding": {"x": {"datum": 0.1}, "y": {"datum": 62.22}}},
        {"data": {"values": [{}]}, "mark": {"type": "text", "text": "**", "fontSize": 20, "angle": 90, "align": "center", "baseline": "middle"}, "encoding": {"x": {"datum": 13.87}, "y": {"datum": 57.8}}},
        {"data": {"values": [{}]}, "mark": {"type": "rule", "strokeWidth": 1.5, "color": "black"}, "encoding": {"x": {"datum": 14.59}, "y": {"datum": 54.71}, "y2": {"datum": 62.22}}},
        {"data": {"values": [{}]}, "mark": {"type": "rule", "strokeWidth": 1.5, "color": "black"}, "encoding": {"x": {"datum": 14.59}, "x2": {"datum": 14.87}, "y": {"datum": 62.22}}},
        {"data": {"values": [{}]}, "mark": {"type": "rule", "strokeWidth": 1.5, "color": "black"}, "encoding": {"x": {"datum": 14.59}, "x2": {"datum": 14.87}, "y": {"datum": 54.71}}}
      ]
    },
    {
      "width": 229, "height": 227,
      "layer": [
        {"data": {"name": "nrems_ind"}, "mark": {"type": "circle", "size": 55, "opacity": 1},
         "encoding": {
           "x": {"field": "period", "type": "nominal", "sort": ["24 hrs", "Light", "Dark"], "scale": {"paddingInner": 0, "paddingOuter": -0.04}, "axis": {"title": null, "labelAngle": 0}},
           "xOffset": {"field": "genotype", "type": "nominal", "sort": ["Tfap2b +/+", "Tfap2b +/-"], "scale": {"paddingInner": 0, "paddingOuter": 0.4}},
           "y": {"field": "value", "type": "quantitative", "scale": {"domain": [0, 800], "nice": false}, "axis": {"values": [0,200,400,600,800], "tickCount": 30, "labelOverlap": false, "format": "d", "title": "Total NREMS time (min)", "titlePadding": 10}},
           "color": {"field": "genotype", "type": "nominal", "scale": {"domain": ["Tfap2b +/+", "Tfap2b +/-"], "range": ["#0000ff", "#e00000"]}, "legend": null}
         }},
        {"data": {"name": "nrems_sum"}, "mark": {"type": "tick", "color": "black", "thickness": 2.5, "size": 17, "opacity": 1},
         "encoding": {"x": {"field": "period", "type": "nominal", "sort": ["24 hrs", "Light", "Dark"], "axis": {"title": null, "labelAngle": 0}}, "xOffset": {"field": "genotype", "type": "nominal", "sort": ["Tfap2b +/+", "Tfap2b +/-"]}, "y": {"field": "mean", "type": "quantitative", "axis": {"values": [0,200,400,600,800], "tickCount": 30, "labelOverlap": false, "format": "d", "title": "Total NREMS time (min)", "titlePadding": 10}}}},
        {"data": {"name": "nrems_sum"}, "mark": {"type": "errorbar", "color": "black", "thickness": 2, "ticks": {"size": 9, "thickness": 2, "opacity": 1}},
         "encoding": {"x": {"field": "period", "type": "nominal", "sort": ["24 hrs", "Light", "Dark"], "axis": {"title": null, "labelAngle": 0}}, "xOffset": {"field": "genotype", "type": "nominal", "sort": ["Tfap2b +/+", "Tfap2b +/-"]}, "y": {"field": "mean", "type": "quantitative", "axis": {"values": [0,200,400,600,800], "tickCount": 30, "labelOverlap": false, "format": "d", "title": "Total NREMS time (min)", "titlePadding": 10}}, "yError": {"field": "sem"}}},
        {"data": {"name": "nrems_sig"}, "mark": {"type": "tick", "color": "black", "thickness": 1.5, "size": 34, "opacity": 1},
         "encoding": {"x": {"field": "period", "type": "nominal", "sort": ["24 hrs", "Light", "Dark"], "axis": {"title": null, "labelAngle": 0}}, "y": {"field": "y", "type": "quantitative", "axis": {"values": [0,200,400,600,800], "tickCount": 30, "labelOverlap": false, "format": "d", "title": "Total NREMS time (min)", "titlePadding": 10}}}},
        {"data": {"name": "nrems_sig"}, "mark": {"type": "text", "fontSize": 20, "dy": -10, "baseline": "middle"},
         "encoding": {"x": {"field": "period", "type": "nominal", "sort": ["24 hrs", "Light", "Dark"], "axis": {"title": null, "labelAngle": 0}}, "y": {"field": "y", "type": "quantitative", "axis": {"values": [0,200,400,600,800], "tickCount": 30, "labelOverlap": false, "format": "d", "title": "Total NREMS time (min)", "titlePadding": 10}}, "text": {"field": "label"}}},
        {"data": {"values": [{}]}, "mark": {"type": "text", "text": "D", "fontSize": 18, "fontWeight": "bold", "align": "left", "baseline": "alphabetic", "dx": -112.1}, "encoding": {"x": {"datum": "24 hrs"}, "y": {"datum": 867}}},
        {"data": {"values": [{}]}, "mark": {"type": "text", "text": "NREMS", "fontSize": 18, "fontStyle": "italic", "align": "left", "baseline": "alphabetic", "dx": -30.5}, "encoding": {"x": {"datum": "24 hrs"}, "y": {"datum": 851.8}}}
      ]
    },
    {
      "width": 343, "height": 225,
      "layer": [
        {"data": {"name": "phase"}, "mark": {"type": "rect", "stroke": "black", "strokeWidth": 1.5, "clip": true},
         "encoding": {
           "x": {"field": "start", "type": "quantitative", "scale": {"domain": [-0.7, 23.8], "nice": false, "zero": false}, "axis": {"values": [0,2,4,6,8,10,12,14,16,18,20,22], "tickCount": 30, "labelOverlap": false, "format": "d", "title": "ZT", "titlePadding": 6}},
           "x2": {"field": "end"},
           "y": {"datum": 0, "type": "quantitative", "scale": {"domain": [0, 12], "nice": false}, "axis": {"values": [0,2,4,6,8,10,12], "tickCount": 30, "labelOverlap": false, "format": "d", "title": "Time in REMS (min/h)", "titlePadding": 10}},
           "y2": {"datum": 0.5},
           "fill": {"field": "phase", "type": "nominal", "scale": {"domain": ["Light", "Dark"], "range": ["#ffffff", "#333333"]}, "legend": null}
         }},
        {"data": {"name": "rems"}, "mark": {"type": "errorbar", "thickness": 2, "ticks": {"size": 7, "thickness": 2, "opacity": 1}},
         "encoding": {"x": {"field": "zt", "type": "quantitative", "axis": {"values": [0,2,4,6,8,10,12,14,16,18,20,22], "tickCount": 30, "labelOverlap": false, "format": "d", "title": "ZT", "titlePadding": 6}}, "y": {"field": "mean", "type": "quantitative", "axis": {"values": [0,2,4,6,8,10,12], "tickCount": 30, "labelOverlap": false, "format": "d", "title": "Time in REMS (min/h)", "titlePadding": 10}}, "yError": {"field": "sem"}, "color": {"field": "genotype", "type": "nominal", "scale": {"domain": ["Tfap2b +/+", "Tfap2b +/-"], "range": ["#0000ff", "#e3121a"]}}}},
        {"data": {"name": "rems"}, "mark": {"type": "line", "strokeWidth": 2.5},
         "encoding": {"x": {"field": "zt", "type": "quantitative", "axis": {"values": [0,2,4,6,8,10,12,14,16,18,20,22], "tickCount": 30, "labelOverlap": false, "format": "d", "title": "ZT", "titlePadding": 6}}, "y": {"field": "mean", "type": "quantitative", "axis": {"values": [0,2,4,6,8,10,12], "tickCount": 30, "labelOverlap": false, "format": "d", "title": "Time in REMS (min/h)", "titlePadding": 10}}, "color": {"field": "genotype", "type": "nominal"}}},
        {"data": {"name": "rems"}, "mark": {"type": "circle", "size": 32, "opacity": 1},
         "encoding": {"x": {"field": "zt", "type": "quantitative", "axis": {"values": [0,2,4,6,8,10,12,14,16,18,20,22], "tickCount": 30, "labelOverlap": false, "format": "d", "title": "ZT", "titlePadding": 6}}, "y": {"field": "mean", "type": "quantitative", "axis": {"values": [0,2,4,6,8,10,12], "tickCount": 30, "labelOverlap": false, "format": "d", "title": "Time in REMS (min/h)", "titlePadding": 10}},
           "color": {"field": "genotype", "type": "nominal", "legend": {"orient": "none", "legendX": 223, "legendY": -3.6, "title": null, "symbolType": "M-1,0L1,0M0.35,0A0.35,0.35,0,1,1,-0.35,0A0.35,0.35,0,1,1,0.35,0Z", "symbolSize": 529, "symbolStrokeWidth": 2.5, "symbolOpacity": 1, "labelColor": {"expr": "datum.label === 'Tfap2b +/+' ? '#0000ff' : '#e3121a'"}, "labelFontSize": 15, "labelOffset": 5, "rowPadding": 4}}}},
        {"data": {"values": [{}]}, "mark": {"type": "text", "text": "E", "fontSize": 18, "fontWeight": "bold", "align": "left", "baseline": "alphabetic"}, "encoding": {"x": {"datum": -4.53}, "y": {"datum": 12.8}}},
        {"data": {"values": [{}]}, "mark": {"type": "text", "text": "REMS", "fontSize": 18, "fontStyle": "italic", "align": "left", "baseline": "alphabetic"}, "encoding": {"x": {"datum": -0.2}, "y": {"datum": 12.36}}},
        {"data": {"values": [{}]}, "mark": {"type": "text", "text": "ns", "fontSize": 19, "align": "center", "baseline": "middle"}, "encoding": {"x": {"datum": 13.37}, "y": {"datum": 10.76}}},
        {"data": {"values": [{}]}, "mark": {"type": "rule", "strokeWidth": 1.5, "color": "black"}, "encoding": {"x": {"datum": 14.63}, "y": {"datum": 10.01}, "y2": {"datum": 11.44}}},
        {"data": {"values": [{}]}, "mark": {"type": "rule", "strokeWidth": 1.5, "color": "black"}, "encoding": {"x": {"datum": 14.63}, "x2": {"datum": 14.87}, "y": {"datum": 11.44}}},
        {"data": {"values": [{}]}, "mark": {"type": "rule", "strokeWidth": 1.5, "color": "black"}, "encoding": {"x": {"datum": 14.63}, "x2": {"datum": 14.87}, "y": {"datum": 10.01}}}
      ]
    },
    {
      "width": 229, "height": 225,
      "layer": [
        {"data": {"name": "rems_ind"}, "mark": {"type": "circle", "size": 55, "opacity": 1},
         "encoding": {
           "x": {"field": "period", "type": "nominal", "sort": ["24 hrs", "Light", "Dark"], "scale": {"paddingInner": 0, "paddingOuter": -0.04}, "axis": {"title": null, "labelAngle": 0}},
           "xOffset": {"field": "genotype", "type": "nominal", "sort": ["Tfap2b +/+", "Tfap2b +/-"], "scale": {"paddingInner": 0, "paddingOuter": 0.4}},
           "y": {"field": "value", "type": "quantitative", "scale": {"domain": [0, 200], "nice": false}, "axis": {"values": [0,50,100,150,200], "tickCount": 30, "labelOverlap": false, "format": "d", "title": "Total REMS time (min)", "titlePadding": 10}},
           "color": {"field": "genotype", "type": "nominal", "scale": {"domain": ["Tfap2b +/+", "Tfap2b +/-"], "range": ["#0000ff", "#e00000"]}, "legend": null}
         }},
        {"data": {"name": "rems_sum"}, "mark": {"type": "tick", "color": "black", "thickness": 2.5, "size": 17, "opacity": 1},
         "encoding": {"x": {"field": "period", "type": "nominal", "sort": ["24 hrs", "Light", "Dark"], "axis": {"title": null, "labelAngle": 0}}, "xOffset": {"field": "genotype", "type": "nominal", "sort": ["Tfap2b +/+", "Tfap2b +/-"]}, "y": {"field": "mean", "type": "quantitative", "axis": {"values": [0,50,100,150,200], "tickCount": 30, "labelOverlap": false, "format": "d", "title": "Total REMS time (min)", "titlePadding": 10}}}},
        {"data": {"name": "rems_sum"}, "mark": {"type": "errorbar", "color": "black", "thickness": 2, "ticks": {"size": 9, "thickness": 2, "opacity": 1}},
         "encoding": {"x": {"field": "period", "type": "nominal", "sort": ["24 hrs", "Light", "Dark"], "axis": {"title": null, "labelAngle": 0}}, "xOffset": {"field": "genotype", "type": "nominal", "sort": ["Tfap2b +/+", "Tfap2b +/-"]}, "y": {"field": "mean", "type": "quantitative", "axis": {"values": [0,50,100,150,200], "tickCount": 30, "labelOverlap": false, "format": "d", "title": "Total REMS time (min)", "titlePadding": 10}}, "yError": {"field": "sem"}}},
        {"data": {"name": "rems_sig"}, "mark": {"type": "tick", "color": "black", "thickness": 1.5, "size": 34, "opacity": 1},
         "encoding": {"x": {"field": "period", "type": "nominal", "sort": ["24 hrs", "Light", "Dark"], "axis": {"title": null, "labelAngle": 0}}, "y": {"field": "y", "type": "quantitative", "axis": {"values": [0,50,100,150,200], "tickCount": 30, "labelOverlap": false, "format": "d", "title": "Total REMS time (min)", "titlePadding": 10}}}},
        {"data": {"name": "rems_sig"}, "mark": {"type": "text", "fontSize": 20, "dy": -10, "baseline": "middle"},
         "encoding": {"x": {"field": "period", "type": "nominal", "sort": ["24 hrs", "Light", "Dark"], "axis": {"title": null, "labelAngle": 0}}, "y": {"field": "y", "type": "quantitative", "axis": {"values": [0,50,100,150,200], "tickCount": 30, "labelOverlap": false, "format": "d", "title": "Total REMS time (min)", "titlePadding": 10}}, "text": {"field": "label"}}},
        {"data": {"values": [{}]}, "mark": {"type": "text", "text": "F", "fontSize": 18, "fontWeight": "bold", "align": "left", "baseline": "alphabetic", "dx": -112.1}, "encoding": {"x": {"datum": "24 hrs"}, "y": {"datum": 213.3}}},
        {"data": {"values": [{}]}, "mark": {"type": "text", "text": "REMS", "fontSize": 18, "fontStyle": "italic", "align": "left", "baseline": "alphabetic", "dx": -28.8}, "encoding": {"x": {"datum": "24 hrs"}, "y": {"datum": 208}}}
      ]
    }
  ],
  "config": {
    "font": "Liberation Sans",
    "view": {"stroke": null},
    "tick": {"opacity": 1},
    "circle": {"opacity": 1},
    "point": {"opacity": 1},
    "axis": {"domainColor": "black", "domainWidth": 2.5, "tickColor": "black", "tickWidth": 2, "tickSize": 8, "labelFontSize": 15, "labelFontWeight": "bold", "labelColor": "black", "labelPadding": 4, "labelFlush": false, "labelOverlap": false, "titleFontSize": 16, "titleFontWeight": "bold", "titleColor": "black", "grid": false},
    "legend": {"labelFontStyle": "italic", "labelFontWeight": "bold", "padding": 0, "labelLimit": 200}
  }
}
